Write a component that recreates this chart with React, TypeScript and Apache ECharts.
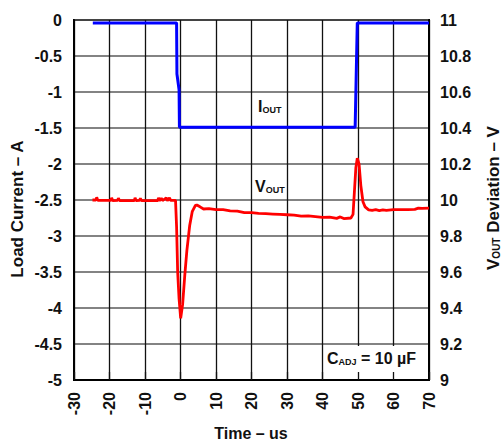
import React, { useEffect, useRef } from "react";
import * as echarts from "echarts";

// Time axis (µs)
const timeMin = -30;
const timeMax = 70;
const timeStep = 10;
// Left axis: load current (A)
const currentMin = -5;
const currentMax = 0;
const currentStep = 0.5;
// Right axis: output voltage (V)
const voltMin = 9;
const voltMax = 11;
const voltStep = 0.2;

// I_OUT trace
const ioutTime = [-24.7, -1.1, -1.0, -0.4, -0.3, 49.2, 49.8, 70];
const ioutAmps = [-0.04, -0.04, -0.75, -0.97, -1.49, -1.49, -0.04, -0.04];

// V_OUT trace
const voutTime = [
  -24.8, -23.8, -23.6, -23.3, -19.6, -19.4, -19.1, -17.7, -17.5, -17.2, -13, -12.8, -12.5,
  -11.5, -11.3, -11, -6.4, -6.2, -5.9, -5.4, -5.1, -4, -3.7, -3.1, -2.8, -1.4, -1.1, -0.8,
  -0.4, 0.05, 0.6, 1.2, 1.8, 2.6, 3.3, 4.2, 4.6, 5.5, 6.5, 8, 10, 12, 14, 16, 18, 20, 22, 24,
  26, 28, 30, 32, 34, 36, 38, 40, 42, 44, 45, 46, 48, 48.6, 49.0, 49.4, 49.8, 50.3, 50.8, 51.4,
  52, 53, 54, 55, 56, 57, 58, 60, 62, 64, 66, 67, 68, 70,
];
const voutVolts = [
  10.0, 10.0, 10.015, 9.998, 9.998, 10.012, 9.996, 9.998, 10.01, 9.997, 9.997, 10.012, 9.996,
  9.998, 10.01, 9.996, 9.997, 10.012, 9.996, 10.01, 9.997, 10.012, 9.996, 10.012, 9.998, 9.998,
  9.85, 9.6, 9.45, 9.343, 9.42, 9.58, 9.72, 9.86, 9.935, 9.97, 9.972, 9.962, 9.95, 9.952, 9.947,
  9.946, 9.94, 9.938, 9.93, 9.93, 9.926, 9.924, 9.922, 9.92, 9.918, 9.916, 9.91, 9.912, 9.908,
  9.904, 9.905, 9.898, 9.906, 9.897, 9.9, 9.92, 10.05, 10.18, 10.232, 10.2, 10.08, 9.99, 9.962,
  9.945, 9.942, 9.946, 9.941, 9.945, 9.942, 9.946, 9.946, 9.947, 9.948, 9.955, 9.953, 9.955,
];

const FONT = "'Liberation Sans', Arial, Helvetica, sans-serif";

export default function App() {
  const ref = useRef<HTMLDivElement>(null);

  useEffect(() => {
    if (!ref.current) return;
    const chart = echarts.init(ref.current, null, { renderer: "svg" });
    const ioutData = ioutTime.map((t, i) => [t, ioutAmps[i]]);
    const voutData = voutTime.map((t, i) => [t, voutVolts[i]]);

    const big = { fontSize: 16, fontWeight: "bold", fontFamily: FONT, fill: "#111", color: "#111", verticalAlign: "bottom", lineHeight: 18 };
    const sub = { fontSize: 9, fontWeight: "bold", fontFamily: FONT, fill: "#111", color: "#111", verticalAlign: "bottom", lineHeight: 14 };
    const bigT = { ...big, fontSize: 17, lineHeight: 19 };
    const subT = { ...sub, fontSize: 10, lineHeight: 15 };

    chart.setOption({
      animation: false,
      backgroundColor: "#ffffff",
      grid: {
        left: 74,
        top: 20,
        width: 355,
        height: 360,
        show: true,
        borderColor: "#000",
        borderWidth: 2,
        backgroundColor: "transparent",
      },
      xAxis: [
        {
          type: "value",
          min: timeMin,
          max: timeMax,
          interval: timeStep,
          position: "bottom",
          axisLine: { show: true, onZero: false, lineStyle: { color: "#000", width: 2 } },
          axisTick: { show: false },
          axisLabel: {
            rotate: 90,
            margin: 12,
            fontSize: 16,
            fontWeight: "bold",
            fontFamily: FONT,
            color: "#111",
          },
          splitLine: { show: true, lineStyle: { color: "#111", width: 1.3 } },
        },
        {
          type: "value",
          min: timeMin,
          max: timeMax,
          interval: timeStep,
          position: "bottom",
          z: 5,
          axisLine: { show: false, onZero: false },
          axisTick: { show: true, inside: true, length: 8, lineStyle: { color: "#111", width: 1.3 } },
          axisLabel: { show: false },
          splitLine: { show: false },
        },
      ],
      yAxis: [
        {
          type: "value",
          min: currentMin,
          max: currentMax,
          interval: currentStep,
          position: "left",
          axisLine: { show: true, onZero: false, lineStyle: { color: "#000", width: 2 } },
          axisTick: { show: false },
          axisLabel: { margin: 12, fontSize: 16, fontWeight: "bold", fontFamily: FONT, color: "#111" },
          splitLine: { show: true, lineStyle: { color: "#5a5a5a", width: 1.5 } },
        },
        {
          type: "value",
          min: voltMin,
          max: voltMax,
          interval: voltStep,
          position: "right",
          axisLine: { show: true, onZero: false, lineStyle: { color: "#000", width: 2 } },
          axisTick: { show: false },
          axisLabel: { margin: 11, fontSize: 16, fontWeight: "bold", fontFamily: FONT, color: "#111" },
          splitLine: { show: false },
        },
      ],
      series: [
        {
          name: "IOUT",
          type: "line",
          xAxisIndex: 0,
          yAxisIndex: 0,
          data: ioutData,
          showSymbol: false,
          symbol: "none",
          lineStyle: { color: "#0000ff", width: 3 },
          z: 3,
        },
        {
          name: "VOUT",
          type: "line",
          xAxisIndex: 0,
          yAxisIndex: 1,
          data: voutData,
          showSymbol: false,
          symbol: "none",
          lineStyle: { color: "#ff0000", width: 2.8 },
          z: 3,
        },
      ],
      graphic: [
        {
          type: "rect",
          z: 4,
          shape: { x: 324, y: 346, width: 104, height: 33 },
          style: { fill: "#ffffff" },
        },
        {
          type: "text",
          z: 6,
          x: 327,
          y: 366,
          style: {
            text: "{m|C}{s|ADJ}{m| = 10 µF}",
            rich: { m: big, s: sub },
            align: "left",
            verticalAlign: "bottom",
          },
        },
        {
          type: "text",
          z: 6,
          x: 258,
          y: 114,
          style: {
            text: "{m|I}{s|OUT}",
            rich: { m: big, s: sub },
            align: "left",
            verticalAlign: "bottom",
          },
        },
        {
          type: "text",
          z: 6,
          x: 255,
          y: 194,
          style: {
            text: "{m|V}{s|OUT}",
            rich: { m: big, s: sub },
            align: "left",
            verticalAlign: "bottom",
          },
        },
        {
          type: "text",
          z: 6,
          x: 17,
          y: 209,
          rotation: Math.PI / 2,
          style: {
            text: "Load Current – A",
            font: `bold 17px ${FONT}`,
            fill: "#111",
            align: "center",
            verticalAlign: "middle",
          },
        },
        {
          type: "text",
          z: 6,
          x: 492,
          y: 198,
          rotation: Math.PI / 2,
          style: {
            text: "{m|V}{s|OUT}{m| Deviation – V}",
            rich: { m: bigT, s: subT },
            align: "center",
            verticalAlign: "middle",
          },
        },
        {
          type: "text",
          z: 6,
          x: 251,
          y: 433,
          style: {
            text: "Time – us",
            font: `bold 16px ${FONT}`,
            fill: "#111",
            align: "center",
            verticalAlign: "middle",
          },
        },
      ],
    });

    return () => chart.dispose();
  }, []);

  return (
    <div
      ref={ref}
      style={{ position: "fixed", left: 0, top: 0, width: 502, height: 440, background: "#fff" }}
    />
  );
}
